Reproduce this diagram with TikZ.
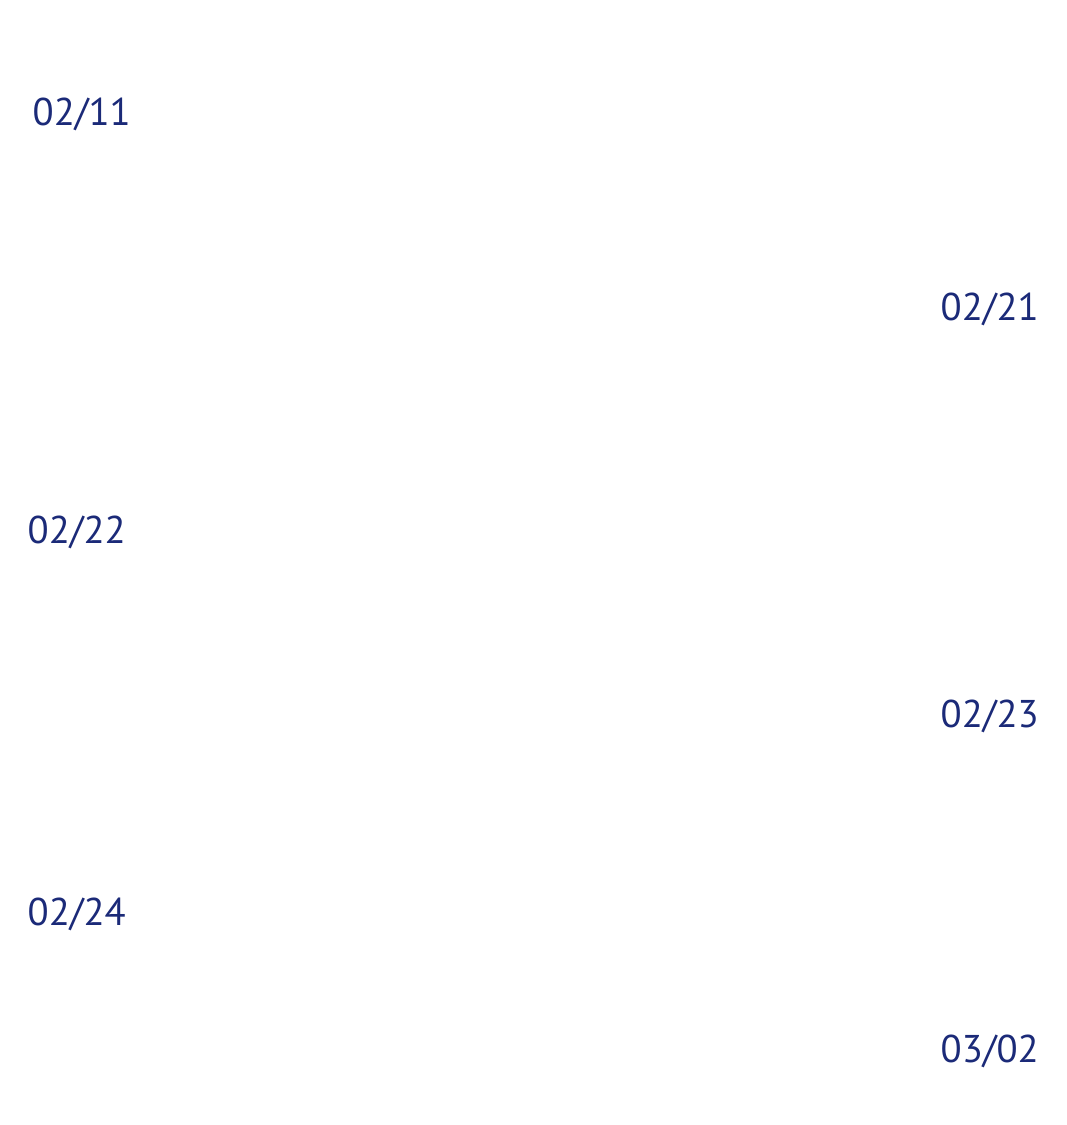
\documentclass[tikz,border=0pt]{standalone}
\usepackage{fontspec}
\setmainfont{PT Sans}
\usepackage{tikz}
\usetikzlibrary{positioning}
\definecolor{datenavy}{HTML}{1B2A78}
\tikzstyle{datelabel} = [text=datenavy, anchor=west, inner sep=0pt, font=\fontsize{11}{13}\selectfont]

\begin{document}
\begin{tikzpicture}[x=0.01cm, y=-0.01cm]
    \useasboundingbox (0,0) rectangle (1066,1125);
    \node[datelabel] (d0211) at (32,114) {02/11};
    \node[datelabel] (d0221) at (940,309) {02/21};
    \node[datelabel] (d0222) at (27,532) {02/22};
    \node[datelabel] (d0223) at (940,716) {02/23};
    \node[datelabel] (d0224) at (27,914) {02/24};
    \node[datelabel] (d0302) at (940,1051) {03/02};
\end{tikzpicture}
\end{document}
